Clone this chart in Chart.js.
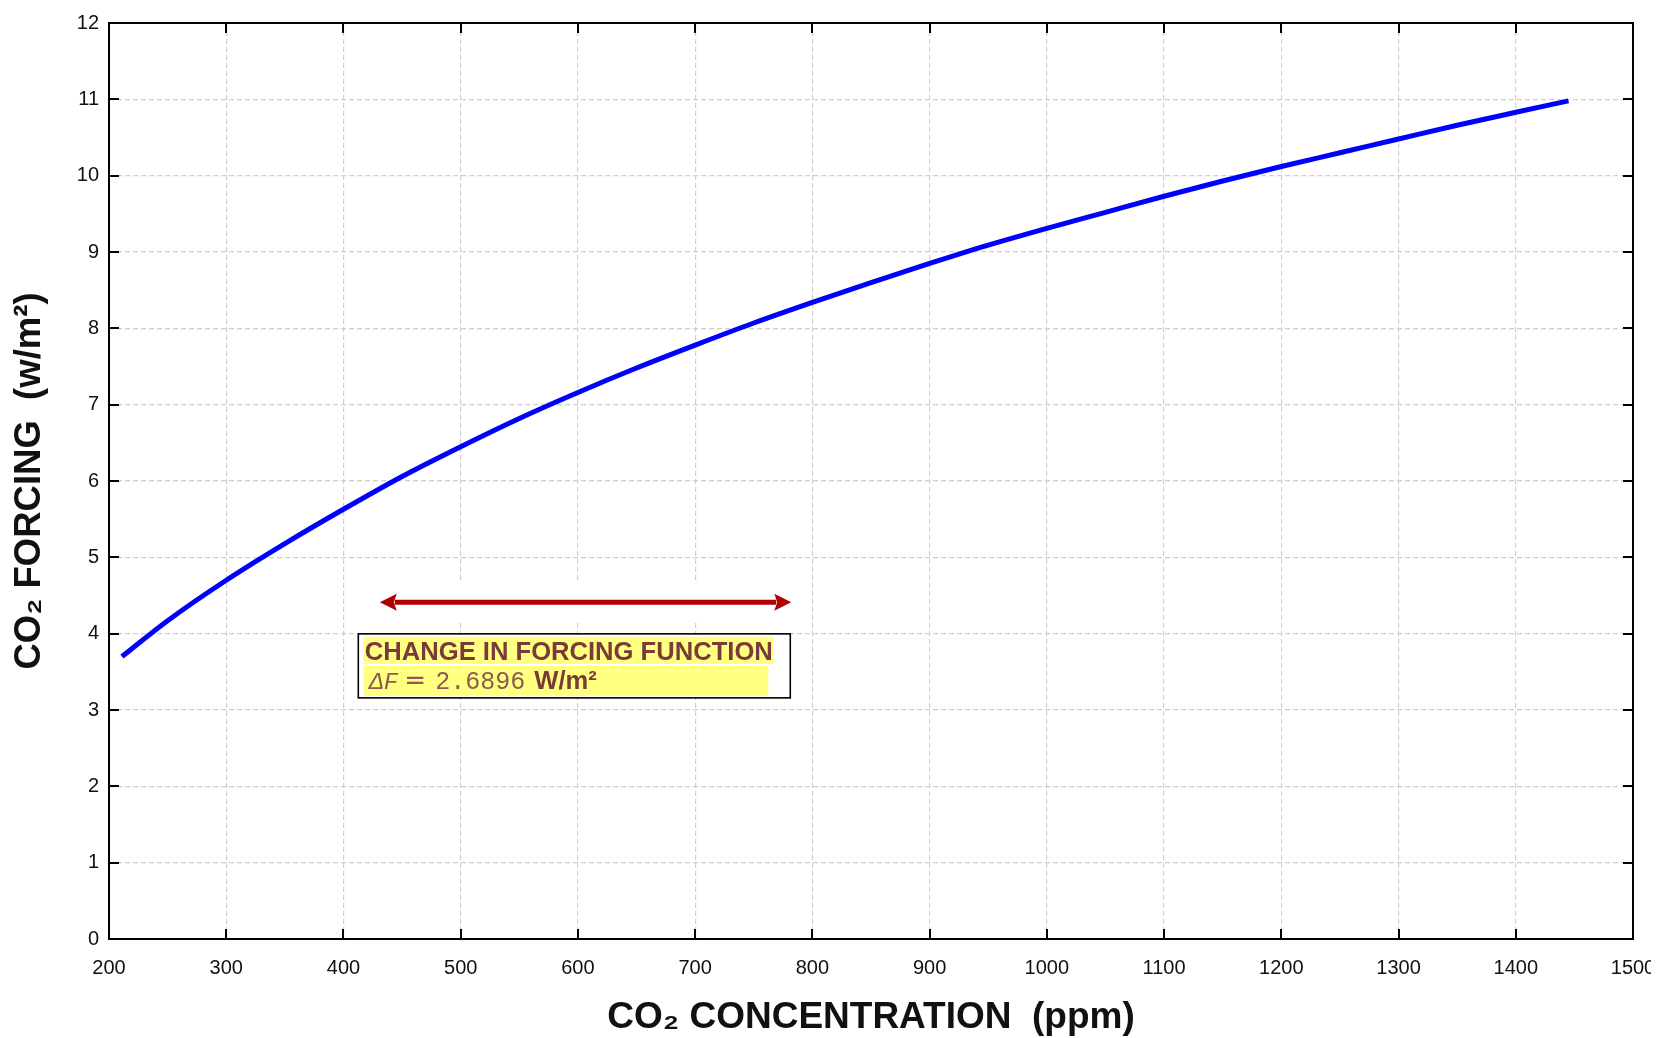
<!DOCTYPE html>
<html>
<head>
<meta charset="utf-8">
<title>CO2 forcing vs concentration</title>
<script src="https://cdn.jsdelivr.net/npm/chart.js@4.4.1/dist/chart.umd.min.js"></script>
<style>
  html, body { margin: 0; padding: 0; background: #fff; }
  #wrap { width: 1668px; height: 1038px; position: relative; }
</style>
</head>
<body>
<div id="wrap"><canvas id="chart" width="1668" height="1038"></canvas></div>
<script>
// values
const co2Ppm = [211, 250, 300, 350, 400, 450, 500, 550, 600, 650, 700, 750, 800, 850, 900, 950, 1000, 1050, 1100, 1150, 1200, 1250, 1300, 1350, 1400, 1445];
const forcingWm2 = [3.70, 4.17, 4.70, 5.18, 5.63, 6.06, 6.45, 6.82, 7.16, 7.48, 7.78, 8.07, 8.34, 8.60, 8.85, 9.09, 9.31, 9.52, 9.73, 9.93, 10.12, 10.30, 10.48, 10.66, 10.83, 10.98];

const xTicks = [200, 300, 400, 500, 600, 700, 800, 900, 1000, 1100, 1200, 1300, 1400, 1500];
const yTicks = [0, 1, 2, 3, 4, 5, 6, 7, 8, 9, 10, 11, 12];

// red double arrow of the annotation (ppm span, forcing level)
const arrowSpan = [431, 782];
const arrowLevel = 4.41;

const boxTitle = "CHANGE IN FORCING FUNCTION";
const boxDelta = "\u0394F";
const boxValue = "2.6896";
const boxUnit = "W/m\u00b2";

const SANS = "'Liberation Sans', Arial, Helvetica, sans-serif";
const MONO = "'Liberation Mono', 'Courier New', monospace";
const INK = "#111";
const BROWN = "#7a3a3a";

Chart.defaults.font.family = SANS;
Chart.defaults.color = INK;

// pin the ticks to our arrays
function useTicks(values) {
    return (scale) => { scale.ticks = values.map((v) => ({ value: v })); };
}

// white patch behind the arrow (the pasted picture covered the grid there)
const arrowBackground = {
    id: "arrowBackground",
    beforeDatasetsDraw(chart) {
        const { ctx, scales: { x, y } } = chart;
        const x0 = x.getPixelForValue(arrowSpan[0]);
        const x1 = x.getPixelForValue(arrowSpan[1]);
        const ay = y.getPixelForValue(arrowLevel);
        ctx.save();
        ctx.fillStyle = "#fff";
        ctx.fillRect(x0 - 19, ay - 19, x1 - x0 + 20, 39);
        ctx.restore();
    },
};

// arrow + text box
const annotation = {
    id: "annotation",
    afterDatasetsDraw(chart) {
        const { ctx, scales: { x, y } } = chart;
        const x0 = x.getPixelForValue(arrowSpan[0]);
        const x1 = x.getPixelForValue(arrowSpan[1]);
        const ay = y.getPixelForValue(arrowLevel);
        ctx.save();

        // shaft
        const head = 17, half = 8.5;
        ctx.strokeStyle = "#b00000";
        ctx.fillStyle = "#b00000";
        ctx.lineWidth = 5;
        ctx.beginPath();
        ctx.moveTo(x0 + head - 2, ay);
        ctx.lineTo(x1 - head + 2, ay);
        ctx.stroke();
        // heads
        ctx.beginPath();
        ctx.moveTo(x0, ay);
        ctx.lineTo(x0 + head, ay - half);
        ctx.lineTo(x0 + head - 3, ay);
        ctx.lineTo(x0 + head, ay + half);
        ctx.closePath();
        ctx.fill();
        ctx.beginPath();
        ctx.moveTo(x1, ay);
        ctx.lineTo(x1 - head, ay - half);
        ctx.lineTo(x1 - head + 3, ay);
        ctx.lineTo(x1 - head, ay + half);
        ctx.closePath();
        ctx.fill();

        // box
        const bl = x0 - 21.5, br = x1 - 1;
        const bt = ay + 31.5, bb = ay + 95.5;
        ctx.fillStyle = "#fff";
        ctx.fillRect(bl, bt, br - bl, bb - bt);
        ctx.fillStyle = "#ffff80";
        ctx.fillRect(bl + 5, bt + 3, 410, 27);
        ctx.fillRect(bl + 5, bt + 32, 405, 30);
        ctx.strokeStyle = "#000";
        ctx.lineWidth = 1.6;
        ctx.strokeRect(bl, bt, br - bl, bb - bt);

        ctx.textBaseline = "alphabetic";
        ctx.textAlign = "left";
        ctx.fillStyle = BROWN;
        ctx.font = "bold 25.6px " + SANS;
        ctx.fillText(boxTitle, bl + 6.5, bt + 26, 408);

        ctx.fillStyle = "#8c5a52";
        ctx.font = "italic 24px " + MONO;
        ctx.fillText(boxDelta, bl + 11, bt + 55);
        ctx.font = "26px 'DejaVu Sans', sans-serif";
        ctx.fillText("=", bl + 46, bt + 55);
        ctx.font = "25px " + MONO;
        ctx.fillText(boxValue, bl + 77, bt + 55, 90);

        ctx.fillStyle = BROWN;
        ctx.font = "bold 25.6px " + SANS;
        ctx.fillText(boxUnit, bl + 176, bt + 55);
        ctx.restore();
    },
};

// black frame with inward ticks on all four sides
const frame = {
    id: "frame",
    afterDraw(chart) {
        const { ctx, chartArea: a, scales: { x, y } } = chart;
        ctx.save();
        ctx.strokeStyle = "#000";
        ctx.lineWidth = 2;
        ctx.beginPath();
        xTicks.slice(1, -1).forEach((v) => {
            const px = Math.round(x.getPixelForValue(v));
            ctx.moveTo(px, a.bottom);
            ctx.lineTo(px, a.bottom - 10);
            ctx.moveTo(px, a.top);
            ctx.lineTo(px, a.top + 10);
        });
        yTicks.slice(1, -1).forEach((v) => {
            const py = Math.round(y.getPixelForValue(v));
            ctx.moveTo(a.left, py);
            ctx.lineTo(a.left + 10, py);
            ctx.moveTo(a.right, py);
            ctx.lineTo(a.right - 10, py);
        });
        ctx.stroke();
        ctx.strokeRect(a.left, a.top, a.right - a.left, a.bottom - a.top);
        // the source picture is cut just past the chart on the right
        ctx.fillStyle = "#fff";
        ctx.fillRect(1651, a.bottom + 5, 20, 50);
        ctx.restore();
    },
};

new Chart(document.getElementById("chart"), {
    type: "line",
    data: {
        datasets: [
            {
                label: "CO\u2082 forcing",
                data: co2Ppm.map((c, i) => ({ x: c, y: forcingWm2[i] })),
                borderColor: "#0000ff",
                borderWidth: 5,
                pointRadius: 0,
                cubicInterpolationMode: "monotone",
                fill: false,
            },
        ],
    },
    options: {
        responsive: false,
        devicePixelRatio: 1,
        animation: false,
        events: [],
        layout: { padding: { top: 23, right: 35, left: 0, bottom: 0 } },
        plugins: {
            legend: { display: false },
            tooltip: { enabled: false },
        },
        scales: {
            x: {
                type: "linear",
                min: 200,
                max: 1500,
                afterBuildTicks: useTicks(xTicks),
                afterFit: (s) => {
                    s.height = 99;
                    s.paddingLeft = 0;
                    s.paddingRight = 0;
                },
                ticks: {
                    font: { size: 20 },
                    color: INK,
                    padding: 17,
                    maxRotation: 0,
                    autoSkip: false,
                    callback: (v) => String(v),
                },
                grid: { color: "#cfcfcf", lineWidth: 1.2, drawTicks: false },
                border: { display: false, dash: [5, 3] },
                title: {
                    display: true,
                    text: "CO\u2082 CONCENTRATION  (ppm)",
                    font: { size: 37, weight: "bold" },
                    color: INK,
                    padding: { top: 0, bottom: -2 },
                },
            },
            y: {
                type: "linear",
                min: 0,
                max: 12,
                afterBuildTicks: useTicks(yTicks),
                afterFit: (s) => { s.width = 109; },
                ticks: {
                    font: { size: 20 },
                    color: INK,
                    padding: 10,
                    autoSkip: false,
                    callback: (v) => String(v),
                },
                grid: { color: "#cfcfcf", lineWidth: 1.2, drawTicks: false },
                border: { display: false, dash: [5, 3] },
                title: {
                    display: true,
                    text: "CO\u2082 FORCING  (w/m\u00b2)",
                    font: { size: 36.5, weight: "bold" },
                    color: INK,
                    padding: { top: 8, bottom: 0 },
                },
            },
        },
    },
    plugins: [arrowBackground, annotation, frame],
});
</script>
</body>
</html>
